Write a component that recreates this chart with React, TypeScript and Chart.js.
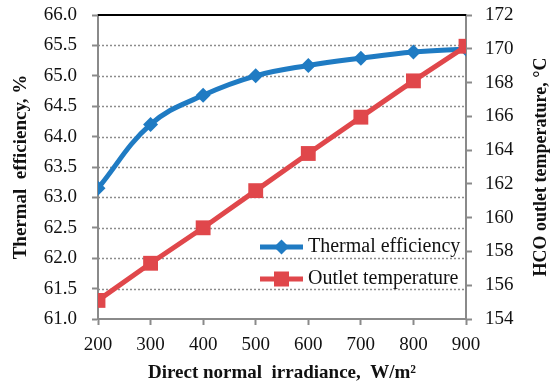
import React, { useEffect, useRef } from "react";
import { Chart, registerables } from "chart.js";
Chart.register(...registerables);

const irradiance = [200, 300, 400, 500, 600, 700, 800, 900];
const thermalEfficiency = [63.15, 64.2, 64.68, 65.0, 65.17, 65.29, 65.39, 65.44];
const outletTemperature = [155.1, 157.3, 159.4, 161.6, 163.8, 165.95, 168.1, 170.15];
const seriesNames = ["Thermal efficiency", "Outlet temperature"];
const xTitle = "Direct normal  irradiance,  W/m\u00B2";
const leftTitle = "Thermal  efficiency, %";
const rightTitle = "HCO outlet temperature, \u00B0C";

const BLUE = "#1F7BC3";
const RED = "#E0474B";
const GRID = "#8c8c8c";
const AXIS = "#8a8a8a";
const FONT = "'Liberation Serif', 'Times New Roman', serif";

const overlay = {
  id: "overlay",
  beforeDatasetsDraw(chart: any) {
    const { ctx, chartArea } = chart;
    const ys = chart.scales.y;
    ctx.save();
    ctx.strokeStyle = GRID;
    ctx.lineWidth = 1.5;
    ctx.setLineDash([2, 2]);
    for (const t of ys.ticks) {
      if (t.value === ys.min || t.value === ys.max) continue;
      const py = Math.round(ys.getPixelForValue(t.value)) + 0.5;
      ctx.beginPath();
      ctx.moveTo(chartArea.left, py);
      ctx.lineTo(chartArea.right, py);
      ctx.stroke();
    }
    ctx.setLineDash([]);
    ctx.strokeStyle = "#000";
    ctx.lineWidth = 2;
    ctx.beginPath();
    ctx.moveTo(chartArea.left, chartArea.top);
    ctx.lineTo(chartArea.right, chartArea.top);
    ctx.stroke();
    ctx.restore();
  },
  afterDatasetsDraw(chart: any) {
    const { ctx, chartArea } = chart;
    const { right, bottom, top } = chartArea;
    ctx.save();
    const rows = [
      { name: seriesNames[0], color: BLUE, style: "diamond", y: bottom - 72 },
      { name: seriesNames[1], color: RED, style: "square", y: bottom - 40 },
    ];
    const x0 = right - 206;
    const x1 = right - 163;
    const xm = (x0 + x1) / 2;
    for (const r of rows) {
      ctx.strokeStyle = r.color;
      ctx.fillStyle = r.color;
      ctx.lineWidth = 5;
      ctx.beginPath();
      ctx.moveTo(x0, r.y);
      ctx.lineTo(x1, r.y);
      ctx.stroke();
      ctx.beginPath();
      if (r.style === "diamond") {
        ctx.moveTo(xm - 7.5, r.y);
        ctx.lineTo(xm, r.y - 7.5);
        ctx.lineTo(xm + 7.5, r.y);
        ctx.lineTo(xm, r.y + 7.5);
        ctx.closePath();
      } else {
        ctx.rect(xm - 7.5, r.y - 7.5, 15, 15);
      }
      ctx.fill();
      ctx.fillStyle = "#111";
      ctx.font = `20px ${FONT}`;
      ctx.textBaseline = "middle";
      ctx.textAlign = "left";
      ctx.fillText(r.name, right - 158, r.y);
    }
    ctx.fillStyle = "#111";
    ctx.font = `bold 18px ${FONT}`;
    ctx.textAlign = "center";
    ctx.textBaseline = "middle";
    ctx.translate(541, (top + bottom) / 2);
    ctx.rotate(-Math.PI / 2);
    ctx.fillText(rightTitle, 0, 0);
    ctx.restore();
  },
};

export default function App() {
  const ref = useRef<HTMLCanvasElement>(null);
  useEffect(() => {
    const tickFont = { family: FONT, size: 19 };
    const chart = new Chart(ref.current!, {
      type: "line",
      data: {
        datasets: [
          {
            label: seriesNames[0],
            data: irradiance.map((x, i) => ({ x, y: thermalEfficiency[i] })),
            borderColor: BLUE,
            backgroundColor: BLUE,
            borderWidth: 5,
            pointStyle: "rectRot",
            pointRadius: 7.5,
            pointBorderWidth: 0,
            tension: 0.4,
            yAxisID: "y",
            order: 1,
          },
          {
            label: seriesNames[1],
            data: irradiance.map((x, i) => ({ x, y: outletTemperature[i] })),
            borderColor: RED,
            backgroundColor: RED,
            borderWidth: 5,
            pointStyle: "rect",
            pointRadius: 10.5,
            pointBorderWidth: 0,
            tension: 0,
            yAxisID: "y1",
            order: 0,
          },
        ],
      },
      options: {
        animation: false,
        responsive: false,
        layout: { padding: { top: 15, left: 0, right: 0, bottom: 0 } },
        plugins: { legend: { display: false }, tooltip: { enabled: false } },
        scales: {
          x: {
            type: "linear",
            min: 200,
            max: 900,
            afterFit: (s: any) => { s.height = 69; s.paddingLeft = 0; s.paddingRight = 0; },
            ticks: { stepSize: 100, font: tickFont, color: "#111", padding: 9, maxRotation: 0 },
            grid: { drawOnChartArea: false, drawTicks: true, tickLength: 6, tickColor: AXIS, tickWidth: 2 },
            border: { color: AXIS, width: 2 },
            title: { display: true, text: xTitle, font: { family: FONT, size: 19, weight: "bold" }, color: "#111", padding: { top: 2, bottom: 3.5 } },
          },
          y: {
            position: "left",
            min: 61,
            max: 66,
            afterFit: (s: any) => { s.width = 98; s.paddingTop = 0; s.paddingBottom = 0; },
            ticks: { stepSize: 0.5, font: tickFont, color: "#111", padding: 15, callback: (v: any) => Number(v).toFixed(1) },
            grid: { drawOnChartArea: false, tickLength: 6, tickColor: AXIS, tickWidth: 2 },
            border: { color: AXIS, width: 2 },
            title: { display: true, text: leftTitle, font: { family: FONT, size: 19, weight: "bold" }, color: "#111", padding: { top: 10, bottom: 0 } },
          },
          y1: {
            position: "right",
            min: 154,
            max: 172,
            afterFit: (s: any) => { s.width = 84; s.paddingTop = 0; s.paddingBottom = 0; },
            ticks: { stepSize: 2, font: tickFont, color: "#111", padding: 13 },
            grid: { drawOnChartArea: false, tickLength: 6, tickColor: AXIS, tickWidth: 2 },
            border: { color: AXIS, width: 2 },
          },
        },
      },
      plugins: [overlay],
    });
    return () => chart.destroy();
  }, []);
  return (
    <div style={{ position: "absolute", left: 0, top: 0, width: 550, height: 388, background: "#fff" }}>
      <canvas ref={ref} width={550} height={388} />
    </div>
  );
}
